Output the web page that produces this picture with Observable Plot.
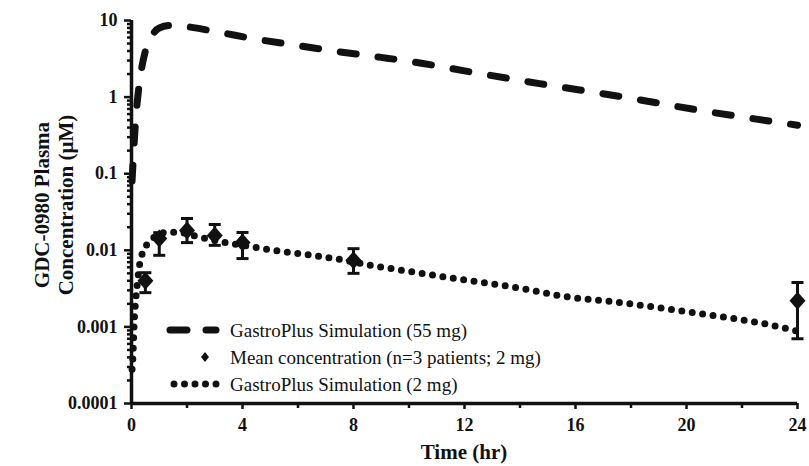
<!DOCTYPE html>
<html>
<head>
<meta charset="utf-8">
<script src="https://cdn.jsdelivr.net/npm/d3@7"></script>
<script src="https://cdn.jsdelivr.net/npm/@observablehq/plot@0.6"></script>
<style>
  html, body { margin: 0; padding: 0; background: #fff; }
  #chart svg { display: block; }
</style>
</head>
<body>
<div id="chart"></div>
<script>
// GastroPlus simulation, 55 mg (dashed)
const sim55Time = [0.02, 0.08, 0.15, 0.25, 0.35, 0.5, 0.7, 1.0, 1.4, 2.0, 3.0, 4.5, 6.0, 7.5, 9.0, 10.5, 12, 14.7, 17.6, 20.5, 24];
const sim55Conc = [0.08, 0.2, 0.5, 1.2, 2.2, 4.0, 6.0, 8.0, 8.6, 8.3, 7.2, 5.7, 4.7, 3.9, 3.3, 2.75, 2.2, 1.5, 1.02, 0.67, 0.43];

// GastroPlus simulation, 2 mg (dotted)
const sim2Time = [0.02, 0.05, 0.1, 0.15, 0.2, 0.25, 0.3, 0.4, 0.6, 0.9, 1.2, 1.6, 2.0, 2.4, 3.3, 4.5, 5.2, 6.0, 7.0, 7.6, 8.6, 10, 12, 14, 15.6, 17.5, 19.2, 21, 22.8, 24];
const sim2Conc = [0.00028, 0.0004, 0.0012, 0.0022, 0.0034, 0.005, 0.0068, 0.0093, 0.0125, 0.0155, 0.017, 0.0172, 0.0165, 0.015, 0.0128, 0.0109, 0.0099, 0.0091, 0.0081, 0.0075, 0.0064, 0.0053, 0.0041, 0.0032, 0.0025, 0.0021, 0.00174, 0.0014, 0.0011, 0.00088];

// Observed mean concentration (n=3 patients; 2 mg) with error bars
const obsTime = [0.5, 1, 2, 3, 4, 8, 24];
const obsMean = [0.0040, 0.0143, 0.0181, 0.0156, 0.0126, 0.0074, 0.0022];
const obsLow  = [0.0028, 0.0086, 0.0126, 0.0116, 0.0078, 0.0050, 0.0007];
const obsHigh = [0.0051, 0.0170, 0.0260, 0.0217, 0.0171, 0.0105, 0.0038];

// Axis ticks
const yTicks = [0.0001, 0.001, 0.01, 0.1, 1, 10];
const yTickLabels = ["0.0001", "0.001", "0.01", "0.1", "1", "10"];
const xTicks = [0, 4, 8, 12, 16, 20, 24];
const xTickLabels = ["0", "4", "8", "12", "16", "20", "24"];
const xMinorTicks = [2, 6, 10, 14, 18, 22];
const yMinorMultipliers = [2, 3, 4, 5, 6, 7, 8, 9];

const legendLabels = ["GastroPlus Simulation (55 mg)", "Mean concentration (n=3 patients; 2 mg)", "GastroPlus Simulation (2 mg)"];

const sim55 = sim55Time.map((t, i) => ({t, c: sim55Conc[i]}));
const sim2 = sim2Time.map((t, i) => ({t, c: sim2Conc[i]}));
const obs = obsTime.map((t, i) => ({t, c: obsMean[i], lo: obsLow[i], hi: obsHigh[i]}));
const yMinor = [];
for (let i = 0; i < yTicks.length - 1; i++) for (const m of yMinorMultipliers) yMinor.push(+(yTicks[i] * m).toPrecision(3));

const capSymbol = {draw(ctx, size) { const w = 6; ctx.moveTo(-w, 0); ctx.lineTo(w, 0); }};
const diamondSymbol = {draw(ctx, size) { const w = 8, h = 9; ctx.moveTo(0, -h); ctx.lineTo(w, 0); ctx.lineTo(0, h); ctx.lineTo(-w, 0); ctx.closePath(); }};

const serif = "'Liberation Serif', 'Times New Roman', serif";
const W = 809, H = 466;
const ink = "#111";

const plot = Plot.plot({
  width: W,
  height: H,
  marginLeft: 131,
  marginRight: 12,
  marginTop: 20,
  marginBottom: 63,
  style: {fontFamily: serif, color: ink},
  x: {domain: [0, 24]},
  y: {type: "log", domain: [0.0001, 10]},
  marks: [
    Plot.axisY({ticks: yMinor, tickSize: 4, tickFormat: () => "", stroke: ink, strokeWidth: 2.5, label: null}),
    Plot.axisY({ticks: yTicks, tickSize: 7, tickPadding: 7, tickFormat: (d) => yTickLabels[yTicks.indexOf(d)], fontSize: 18, fontWeight: "bold", stroke: ink, strokeWidth: 2.5, label: null}),
    Plot.axisX({ticks: xMinorTicks, tickSize: 5, tickFormat: () => "", stroke: ink, strokeWidth: 2.5, label: null}),
    Plot.axisX({ticks: xTicks, tickSize: 6, tickPadding: 9, tickFormat: (d) => xTickLabels[xTicks.indexOf(d)], fontSize: 18, fontWeight: "bold", stroke: ink, strokeWidth: 2.5, label: null}),
    Plot.ruleX([0], {stroke: ink, strokeWidth: 3.5}),
    Plot.ruleY([0.0001], {stroke: ink, strokeWidth: 3.5}),
    Plot.line(sim55, {x: "t", y: "c", stroke: ink, strokeWidth: 7, strokeDasharray: "16 22", strokeLinecap: "round", curve: "monotone-x"}),
    Plot.line(sim2, {x: "t", y: "c", stroke: ink, strokeWidth: 7, strokeDasharray: "0 10.5", strokeLinecap: "round", curve: "monotone-x"}),
    Plot.ruleX(obs, {x: "t", y1: "lo", y2: "hi", stroke: ink, strokeWidth: 3}),
    Plot.dot(obs, {x: "t", y: "lo", symbol: capSymbol, stroke: ink, strokeWidth: 3, r: 5}),
    Plot.dot(obs, {x: "t", y: "hi", symbol: capSymbol, stroke: ink, strokeWidth: 3, r: 5}),
    Plot.dot(obs, {x: "t", y: "c", symbol: diamondSymbol, fill: ink, stroke: "none", r: 5})
  ]
});

document.getElementById("chart").appendChild(plot);

const svg = d3.select(plot);
const xs = plot.scale("x");
const x0 = xs.apply(0), x1 = xs.apply(24);

// Y axis title (two lines)
const yTitle = svg.append("text")
  .attr("transform", "translate(54,205) rotate(-90)")
  .attr("text-anchor", "middle")
  .attr("font-family", serif)
  .attr("font-weight", "bold")
  .attr("font-size", 21)
  .attr("fill", ink);
yTitle.append("tspan").attr("x", 0).attr("dy", "-0.25em").text("GDC-0980 Plasma");
yTitle.append("tspan").attr("x", 0).attr("dy", "1.15em").text("Concentration (\u00b5M)");

// X axis title
svg.append("text")
  .attr("x", (x0 + x1) / 2)
  .attr("y", 459)
  .attr("text-anchor", "middle")
  .attr("font-family", serif)
  .attr("font-weight", "bold")
  .attr("font-size", 21)
  .attr("fill", ink)
  .text("Time (hr)");

// Legend
const lg = svg.append("g").attr("fill", ink).attr("stroke", ink);
const rows = [330, 357, 384];
const textX = 230;
lg.append("line").attr("x1", 170).attr("x2", 216).attr("y1", rows[0]).attr("y2", rows[0])
  .attr("stroke-width", 7).attr("stroke-linecap", "round").attr("stroke-dasharray", "17 19");
lg.append("path").attr("d", `M${205},${rows[1] - 5}L${209},${rows[1]}L${205},${rows[1] + 5}L${201},${rows[1]}Z`).attr("stroke", "none");
lg.append("line").attr("x1", 174).attr("x2", 218).attr("y1", rows[2]).attr("y2", rows[2])
  .attr("stroke-width", 7).attr("stroke-linecap", "round").attr("stroke-dasharray", "0 10.5");
legendLabels.forEach((label, i) => {
  lg.append("text").attr("x", textX).attr("y", rows[i]).attr("dy", "0.35em").attr("text-anchor", "start")
    .attr("stroke", "none").attr("font-family", serif).attr("font-size", 19).text(label);
});
</script>
</body>
</html>
